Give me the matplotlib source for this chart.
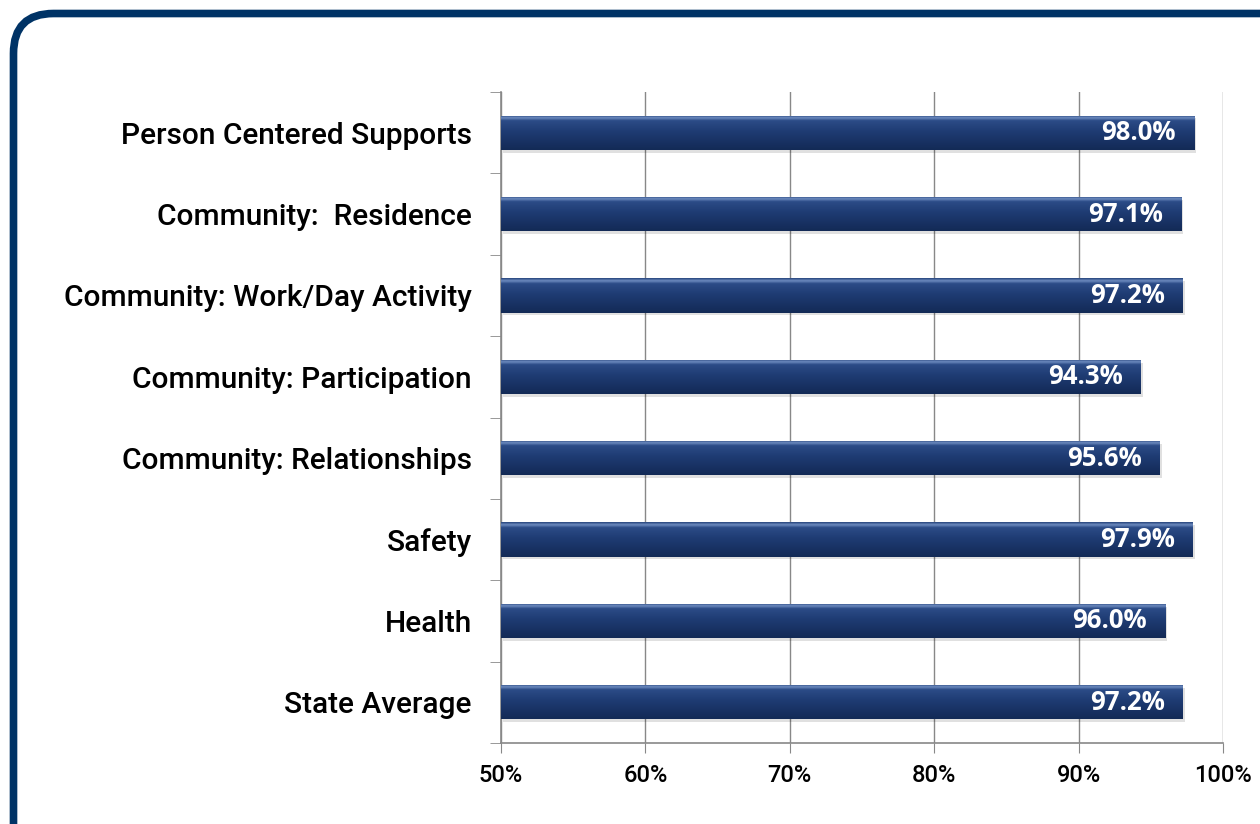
import matplotlib.pyplot as plt
import numpy as np
from matplotlib.patches import FancyBboxPatch
from matplotlib.colors import LinearSegmentedColormap

categories = ["Person Centered Supports", "Community:  Residence", "Community: Work/Day Activity",
              "Community: Participation", "Community: Relationships", "Safety", "Health", "State Average"]
values = [98.0, 97.1, 97.2, 94.3, 95.6, 97.9, 96.0, 97.2]
x_ticks = [50, 60, 70, 80, 90, 100]
x_labels = ["50%", "60%", "70%", "80%", "90%", "100%"]
base = 50

fig = plt.figure(figsize=(12.6, 8.24), dpi=100)
ax = fig.add_axes([501 / 1260, 1 - 743 / 824, 722 / 1260, 651 / 824])

# rounded frame around the whole slide (inches)
frame = FancyBboxPatch((0.135, -1.0), 13.5, 8.24 - 0.135 + 1.0,
                       boxstyle="round,pad=0,rounding_size=0.4",
                       transform=fig.dpi_scale_trans, facecolor="none",
                       edgecolor="#003366", linewidth=5.5, zorder=10)
fig.patches.append(frame)

ys = np.arange(len(categories))[::-1]
h = 0.42
widths = [v - base for v in values]

# soft shadow
ax.barh(ys - 0.035, widths, height=h, left=base + 0.15, color="#000000", alpha=0.12, zorder=2)
bars = ax.barh(ys, widths, height=h, left=base, color="#1b3566", zorder=3)

cmap = LinearSegmentedColormap.from_list("bar", [(0, "#132a56"), (0.55, "#1f3c74"),
                                                 (0.85, "#2c4c87"), (0.93, "#6d8cc0"),
                                                 (1, "#2b4880")])
grad = np.linspace(0, 1, 64).reshape(-1, 1)
for b in bars:
    x0, y0 = b.get_x(), b.get_y()
    im = ax.imshow(grad, cmap=cmap, aspect="auto", origin="lower",
                   extent=[x0, x0 + b.get_width(), y0, y0 + b.get_height()], zorder=4)
    im.set_clip_path(b)

for y, v in zip(ys, values):
    ax.annotate(f"{v:.1f}%", (v, y), xytext=(-13, 0), textcoords="offset points",
                ha="right", va="center", color="white", fontsize=18.5,
                fontweight="bold", family="Open Sans", zorder=6)

ax.set_xlim(50, 100)
ax.set_ylim(-0.5, len(categories) - 0.5)
ax.set_xticks(x_ticks)
ax.set_xticklabels(x_labels, fontsize=17, family="Roboto", fontweight="medium")
ax.set_yticks(ys)
ax.set_yticklabels(categories, fontsize=21.5, family="Roboto", fontweight="medium")
ax.set_yticks(np.arange(-0.5, len(categories), 1), minor=True)
ax.tick_params(axis="y", which="major", length=0, pad=21)
ax.tick_params(axis="y", which="minor", length=8, color="#888888", direction="out")
ax.tick_params(axis="x", length=7, color="#888888", pad=8)
ax.grid(axis="x", color="#888888", linewidth=1, zorder=1)
ax.set_axisbelow(True)
for s in ["top", "right"]:
    ax.spines[s].set_visible(False)
for s in ["left", "bottom"]:
    ax.spines[s].set_color("#888888")
    ax.spines[s].set_linewidth(1.2)

fig.savefig("out.png", dpi=100)
